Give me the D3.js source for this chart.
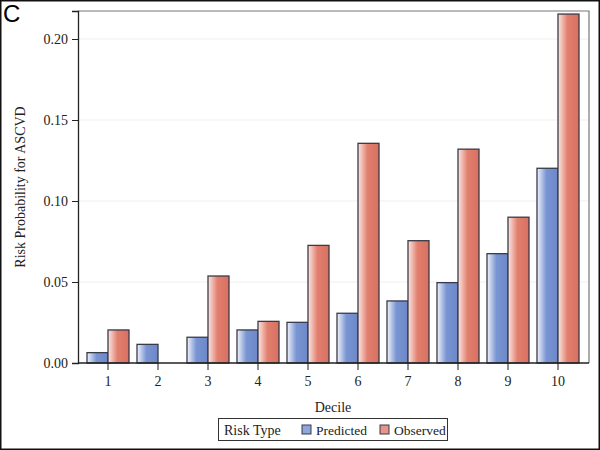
<!DOCTYPE html>
<html><head><meta charset="utf-8">
<script src="https://cdn.jsdelivr.net/npm/d3@7"></script>
<style>body{margin:0;background:#fff}svg{display:block}</style>
</head><body>
<script>
const deciles = ["1","2","3","4","5","6","7","8","9","10"];
const predicted = [0.0064,0.0115,0.0159,0.0204,0.0251,0.0307,0.0383,0.0496,0.0675,0.1202];
const observed  = [0.0204,0.0,0.0537,0.0257,0.0726,0.1356,0.0755,0.1320,0.0900,0.2154];
const seriesNames = ["Predicted","Observed"];
const yTicks = [0,0.05,0.10,0.15,0.20];

const W=600,H=450;
const svg=d3.select("body").append("svg").attr("width",W).attr("height",H);
const defs=svg.append("defs");
function grad(id,light,full,dark){
  const g=defs.append("linearGradient").attr("id",id).attr("x1","0%").attr("x2","100%");
  g.append("stop").attr("offset","0%").attr("stop-color",light);
  g.append("stop").attr("offset","45%").attr("stop-color",full);
  g.append("stop").attr("offset","100%").attr("stop-color",dark);
}
grad("gP","#f2f4fb","#7894d2","#6c88c8");
grad("gO","#fce8e4","#e27f6f","#d8705f");
const fills=["url(#gP)","url(#gO)"];
const swatch=["#8fa6da","#e7958a"];

const L=78,R=589,T=11,B=363;
const y=d3.scaleLinear().domain([0,(B-T)/1620]).range([B,T]);
const x=d3.scaleBand().domain(deciles).range([83,583]).paddingInner(0).paddingOuter(0);
const xs=d3.scaleBand().domain(seriesNames).range([4,46]);

svg.append("g").selectAll("line").data(yTicks.filter(d=>d>0)).join("line")
  .attr("x1",L).attr("x2",R).attr("y1",d=>y(d)).attr("y2",d=>y(d))
  .attr("stroke","#efefef").attr("stroke-width",1);

svg.append("path").attr("d",`M${L},${T}H${R}V${B}`).attr("fill","none").attr("stroke","#777").attr("stroke-width",1.2);

const data=deciles.map((d,i)=>({d,vals:[predicted[i],observed[i]]}));
const gb=svg.append("g");
data.forEach(row=>{
  row.vals.forEach((v,j)=>{
    if(v<=0) return;
    gb.append("rect").attr("x",x(row.d)+xs(seriesNames[j])).attr("width",xs.bandwidth())
      .attr("y",y(v)).attr("height",B-y(v)).attr("fill",fills[j])
      .attr("stroke","#3a3a48").attr("stroke-width",1.3);
  });
});

const font="Liberation Serif, Times New Roman, serif";
const ya=svg.append("g").attr("transform",`translate(${L},0)`)
  .call(d3.axisLeft(y).tickValues(yTicks).tickFormat(d3.format(".2f")).tickSize(6).tickPadding(4));
ya.attr("font-family",font);
ya.select(".domain").attr("stroke","#222").attr("stroke-width",1.3);
ya.selectAll(".tick line").attr("stroke","#222");
ya.selectAll("text").style("font-family",font).attr("font-size",14).attr("fill","#222");

const xa=svg.append("g").attr("transform",`translate(0,${B})`)
  .call(d3.axisBottom(x).tickSize(7).tickPadding(6).tickSizeOuter(0));
xa.attr("font-family",font);
xa.select(".domain").remove();
xa.append("line").attr("x1",L).attr("x2",R).attr("stroke","#222").attr("stroke-width",1.6);
xa.selectAll(".tick line").attr("stroke","#222");
xa.selectAll("text").style("font-family",font).attr("font-size",14).attr("fill","#222");

svg.append("text").attr("x",333).attr("y",412).attr("text-anchor","middle")
  .style("font-family",font).attr("font-size",14).attr("fill","#222").text("Decile");
svg.append("text").attr("transform","translate(25,187) rotate(-90)").attr("text-anchor","middle")
  .style("font-family",font).attr("font-size",14).attr("fill","#222").text("Risk Probability for ASCVD");

const lg=svg.append("g");
lg.append("rect").attr("x",218.5).attr("y",418.5).attr("width",229).attr("height",22)
  .attr("fill","#fff").attr("stroke","#333").attr("stroke-width",1);
lg.append("text").attr("x",224).attr("y",435).style("font-family",font).attr("font-size",14).attr("fill","#222").text("Risk Type");
const lx=[302,380];
seriesNames.forEach((s,j)=>{
  lg.append("rect").attr("x",lx[j]).attr("y",425).attr("width",9).attr("height",9)
    .attr("fill",swatch[j]).attr("stroke","#3a3a48").attr("stroke-width",1);
  lg.append("text").attr("x",lx[j]+14).attr("y",435).style("font-family",font).attr("font-size",13.5).attr("fill","#222").text(s);
});

svg.append("text").attr("x",3).attr("y",22).style("font-family","Liberation Sans, Arial, sans-serif")
  .attr("font-size",24).attr("fill","#000").text("C");

svg.append("rect").attr("x",0.75).attr("y",0.75).attr("width",W-1.5).attr("height",H-1.5)
  .attr("fill","none").attr("stroke","#111").attr("stroke-width",1.5);
</script>
</body></html>
